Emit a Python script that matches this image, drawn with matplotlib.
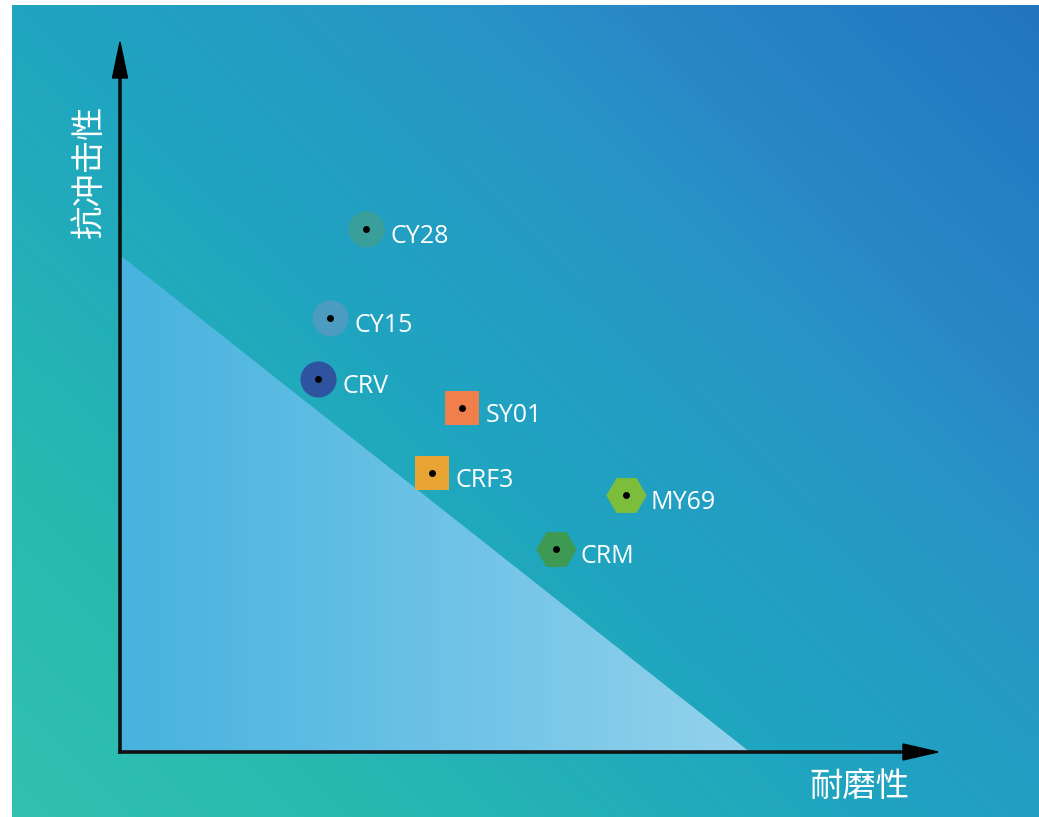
import numpy as np
import matplotlib
matplotlib.use("Agg")
import matplotlib.pyplot as plt
from matplotlib.colors import LinearSegmentedColormap
from matplotlib.patches import Polygon

# ---- data ----
names = ["CY28", "CY15", "CRV", "SY01", "CRF3", "MY69", "CRM"]
wear = [3.01, 2.57, 2.42, 4.18, 3.81, 6.19, 5.33]       # 耐磨性
impact = [7.37, 6.11, 5.25, 4.85, 3.93, 3.62, 2.86]     # 抗冲击性
markers = ["o", "o", "o", "s", "s", "H", "H"]
colors = ["#3a9f9a", "#4c9cc2", "#2e54a0", "#f07f4b", "#e9a533", "#7dbd3c", "#3e9a52"]
sizes = [26, 26, 26, 24, 24, 29, 29]
tri_x = [0, 0, 7.70]
tri_y = [0, 7.0, 0]
xlabel = "耐磨性"
ylabel = "抗冲击性"

W, H = 1039, 817
fig = plt.figure(figsize=(W / 100, H / 100), dpi=100)
fig.patch.set_facecolor("white")

# ---- background gradient ----
bg = fig.add_axes([12 / W, 0, (W - 12) / W, (H - 5) / H])
bg.set_axis_off()
nx, ny = 300, 240
xx, yy = np.meshgrid(np.linspace(0, 1, nx), np.linspace(0, 1, ny))
u = 0.55 * xx + 0.45 * yy
bgcmap = LinearSegmentedColormap.from_list(
    "bg", [(0, "#32c1af"), (0.2, "#28b8b0"), (0.45, "#1fa5c0"),
           (0.68, "#2895c6"), (0.8, "#2886c6"), (1.0, "#2276c0")])
bg.imshow(u, cmap=bgcmap, origin="lower", extent=[0, 1, 0, 1], aspect="auto",
          interpolation="bilinear", vmin=0, vmax=1)
bg.set_xlim(0, 1)
bg.set_ylim(0, 1)

# ---- main axes ----
ax = fig.add_axes([120 / W, (H - 752) / H, (938 - 120) / W, (752 - 42) / H])
ax.set_xlim(0, 10)
ax.set_ylim(0, 10)
ax.patch.set_alpha(0)
for s in ax.spines.values():
    s.set_visible(False)
ax.set_xticks([])
ax.set_yticks([])

# triangle with gradient
tri = Polygon(np.column_stack([tri_x, tri_y]), closed=True, facecolor="none", edgecolor="none")
ax.add_patch(tri)
tcmap = LinearSegmentedColormap.from_list("tri", ["#47b3de", "#6cc2e6", "#94d2ec"])
gx = np.linspace(0, 1, 200)
grad = np.tile(gx, (50, 1))
im = ax.imshow(grad, cmap=tcmap, extent=[0, max(tri_x), 0, max(tri_y)], origin="lower",
               aspect="auto", interpolation="bilinear", zorder=1)
im.set_clip_path(tri)

# axes arrows
ax.plot([0, 0], [0, 0.96], transform=ax.transAxes, color="#111111", lw=2.6, zorder=3,
        solid_capstyle="projecting", clip_on=False)
ax.plot([0, 0.97], [0, 0], transform=ax.transAxes, color="#111111", lw=2.6, zorder=3,
        solid_capstyle="projecting", clip_on=False)
hy = 36 / 710
hwx = 7.5 / 818
ax.add_patch(Polygon([[-hwx, 1 - hy], [hwx, 1 - hy], [0, 1]], closed=True,
                     transform=ax.transAxes, color="black", zorder=4, clip_on=False))
hx = 35 / 818
hwy = 8 / 710
ax.add_patch(Polygon([[1 - hx, -hwy], [1 - hx, hwy], [1, 0]], closed=True,
                     transform=ax.transAxes, color="black", zorder=4, clip_on=False))

# points
for n, x, y, m, c, s in zip(names, wear, impact, markers, colors, sizes):
    ax.plot(x, y, marker=m, markersize=s, color=c, markeredgewidth=0, zorder=5, clip_on=False)
    ax.plot(x, y, marker="o", markersize=5, color="black", markeredgewidth=0, zorder=6, clip_on=False)
    ax.annotate(n, (x, y), xytext=(17.5, -5.5), textcoords="offset points",
                ha="left", va="center", color="white", fontsize=18,
                family=["Open Sans", "DejaVu Sans"], zorder=7)

# axis titles
fig.text(89 / W, 1 - 171 / H, ylabel, rotation=90, ha="center", va="center",
         color="white", fontsize=24, family=["Noto Sans CJK SC", "DejaVu Sans"], fontweight="light")
fig.text(859 / W, 1 - 786 / H, xlabel, ha="center", va="center",
         color="white", fontsize=24, family=["Noto Sans CJK SC", "DejaVu Sans"], fontweight="light")

fig.savefig("out.png", dpi=100, facecolor=fig.get_facecolor())
